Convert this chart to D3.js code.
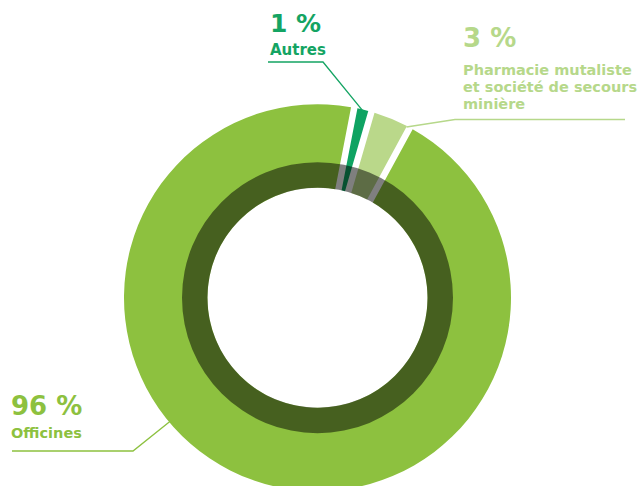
<!DOCTYPE html>
<html>
<head>
<meta charset="utf-8">
<script src="https://cdn.jsdelivr.net/npm/d3@7"></script>
<style>
  html, body { margin: 0; padding: 0; background: #fff; }
  svg { display: block; }
  text { font-family: "DejaVu Sans", Lato, sans-serif; font-weight: 700; }
</style>
</head>
<body>
<svg id="chart" width="640" height="486"></svg>
<script>
// ---- data ----
const categories = ["Officines", "Autres", "Pharmacie mutaliste et société de secours minière"];
const values = [96, 1, 3];
const percentLabels = ["96 %", "1 %", "3 %"];
const nameLines = [["Officines"], ["Autres"], ["Pharmacie mutaliste", "et société de secours", "minière"]];
const colors = ["#8dc13f", "#0fa362", "#bad88a"];
const textColors = ["#8dc13f", "#14a463", "#b6d88a"];

// ---- layout ----
const W = 640, H = 486;
const cx = 317.5, cy = 297.7;
const R = 193.5, rInner = 110, rDark = 135.5;
const deg = Math.PI / 180;
const startAngle = 28.5 * deg;
const padW = 6.5;
const padRadius = Math.sqrt(rInner * rInner + R * R);

const svg = d3.select("#chart");
const g = svg.append("g").attr("transform", `translate(${cx},${cy})`);

const pie = d3.pie().sort(null).value(d => d)
  .startAngle(startAngle).endAngle(startAngle + 2 * Math.PI)
  .padAngle(padW / padRadius);
const arcs = pie(values);

const arc = d3.arc().innerRadius(rInner).outerRadius(R).padRadius(padRadius);

g.selectAll("path.slice").data(arcs).enter().append("path")
  .attr("class", "slice")
  .attr("d", arc)
  .attr("fill", (d, i) => colors[i]);

// dark translucent inner ring
g.append("path")
  .attr("d", d3.arc().innerRadius(rInner).outerRadius(rDark).startAngle(0).endAngle(2 * Math.PI)())
  .attr("fill", "rgba(0,0,0,0.5)");

function pt(a, r) { return [cx + r * Math.sin(a), cy - r * Math.cos(a)]; }
const line = d3.line();

// leader lines
{
  const a = (arcs[1].startAngle + arcs[1].endAngle) / 2;
  const p = pt(a, R - 1);
  svg.append("path").attr("d", line([[268, 62], [323, 62], p]))
    .attr("fill", "none").attr("stroke", textColors[1]).attr("stroke-width", 1.3);
}
{
  const a = arcs[2].endAngle - (padW / 2) / R;
  const p = pt(a, R - 1);
  svg.append("path").attr("d", line([p, [455, 119.5], [625, 119.5]]))
    .attr("fill", "none").attr("stroke", textColors[2]).attr("stroke-width", 1.3);
}
{
  const p = pt(230 * deg, R - 2);
  svg.append("path").attr("d", line([[12, 451], [133, 451], p]))
    .attr("fill", "none").attr("stroke", textColors[0]).attr("stroke-width", 1.3);
}

// labels
function label(i, x, yPct, yName, pctSize, nameSize, lh) {
  svg.append("text").attr("x", x).attr("y", yPct)
    .attr("font-size", pctSize).attr("fill", textColors[i])
    .text(percentLabels[i]);
  nameLines[i].forEach((s, k) => {
    svg.append("text").attr("x", x).attr("y", yName + k * lh)
      .attr("font-size", nameSize).attr("fill", textColors[i]).text(s);
  });
}
label(1, 270, 32, 55, 25, 15, 17);
label(2, 463, 47, 75, 26, 14.5, 17.2);
label(0, 11, 415, 438, 26, 14.5, 17);
</script>
</body>
</html>
